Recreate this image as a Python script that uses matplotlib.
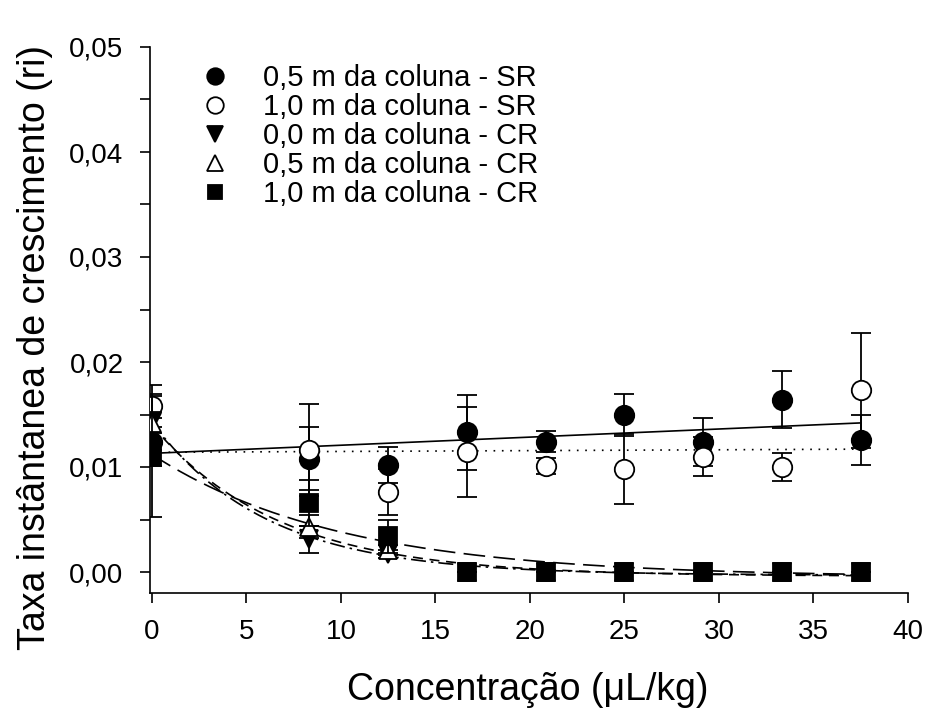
import numpy as np
import matplotlib
matplotlib.use('Agg')
import matplotlib.pyplot as plt
from matplotlib.ticker import MultipleLocator, FuncFormatter

plt.rcParams['font.family'] = ['Liberation Sans', 'DejaVu Sans']

# Concentração (uL/kg)
conc = [0, 8.33, 12.5, 16.67, 20.83, 25, 29.17, 33.33, 37.5]

# Taxa instantânea de crescimento (ri) e desvios
sr_05 = [0.0124, 0.0108, 0.0102, 0.0133, 0.0124, 0.0150, 0.0124, 0.0164, 0.0126]
sr_05_err = [0.0023, 0.0030, 0.0017, 0.0036, 0.0010, 0.0020, 0.0023, 0.0027, 0.0024]
sr_10 = [0.0158, 0.0116, 0.0076, 0.0114, 0.0101, 0.0098, 0.0110, 0.0100, 0.0173]
sr_10_err = [0.0020, 0.0044, 0.0022, 0.0043, 0.0008, 0.0033, 0.0019, 0.0013, 0.0055]
cr_00 = [0.0143, 0.0031, 0.0017, 0, 0, 0, 0, 0, 0]
cr_00_err = [0.0027, 0.0013, 0.0004, 0, 0, 0, 0, 0, 0]
cr_05 = [0.0142, 0.0043, 0.0021, 0, 0, 0, 0, 0, 0]
cr_05_err = [0.0010, 0.0011, 0.0005, 0, 0, 0, 0, 0, 0]
cr_10 = [0.0110, 0.0066, 0.0034, 0, 0, 0, 0, 0, 0]
cr_10_err = [0.0058, 0.0022, 0.0016, 0, 0, 0, 0, 0, 0]

labels = ['0,5 m da coluna - SR', '1,0 m da coluna - SR', '0,0 m da coluna - CR',
          '0,5 m da coluna - CR', '1,0 m da coluna - CR']

# coeficientes das regressões
lin_sr05 = (0.0113, 0.0000773)   # a + b*x
lin_sr10 = (0.0114, 0.0000080)
exp_cr00 = (0.0146, 0.166, -0.0003)  # a*exp(-b*x) + c
exp_cr05 = (0.0144, 0.150, -0.0004)
exp_cr10 = (0.0117, 0.100, -0.0005)

fig = plt.figure(figsize=(9.26, 7.15), dpi=100)
ax = fig.add_axes([150/926, 1-593/715, 758/926, 546/715])

xx = np.linspace(0, 37.5, 300)
ax.plot(xx, lin_sr05[0] + lin_sr05[1]*xx, color='black', lw=1.2, zorder=2)
ax.plot(xx, lin_sr10[0] + lin_sr10[1]*xx, color='black', lw=1.2, ls=(0, (1, 4)), zorder=2)
ax.plot(xx, exp_cr00[0]*np.exp(-exp_cr00[1]*xx) + exp_cr00[2], color='black', lw=1.2,
        ls=(0, (9, 3, 1.5, 3)), zorder=2)
ax.plot(xx, exp_cr05[0]*np.exp(-exp_cr05[1]*xx) + exp_cr05[2], color='black', lw=1.2,
        ls=(0, (6, 4)), zorder=2)
ax.plot(xx, exp_cr10[0]*np.exp(-exp_cr10[1]*xx) + exp_cr10[2], color='black', lw=1.2,
        ls=(0, (13, 5)), zorder=2)

kw = dict(color='black', ecolor='black', elinewidth=1.3, capsize=7, capthick=1.3,
          ls='none', mec='black', mew=1.3)
series = [
    (sr_05, sr_05_err, 'o', 'black', 14),
    (sr_10, sr_10_err, 'o', 'white', 14),
    (cr_00, cr_00_err, 'v', 'black', 13.5),
    (cr_05, cr_05_err, '^', 'white', 13.5),
    (cr_10, cr_10_err, 's', 'black', 12.5),
]
handles = []
for i, (y, e, m, fc, ms) in enumerate(series):
    h = ax.errorbar(conc, y, yerr=e, marker=m, mfc=fc, ms=ms, zorder=3 + i, **kw)
    handles.append(h[0])

leg = ax.legend(handles, labels, loc='upper left', bbox_to_anchor=(0.066, 0.968),
                frameon=False, fontsize=21, handlelength=1.0, handletextpad=1.15,
                labelspacing=0.03, borderaxespad=0, borderpad=0, markerscale=0.85)

ax.set_xlim(-0.1, 40)
ax.set_ylim(-0.002, 0.05)
ax.xaxis.set_major_locator(MultipleLocator(5))
ax.yaxis.set_major_locator(MultipleLocator(0.01))
ax.yaxis.set_minor_locator(MultipleLocator(0.005))
ax.yaxis.set_major_formatter(FuncFormatter(lambda v, p: f'{v:.2f}'.replace('.', ',')))
ax.tick_params(axis='both', which='both', direction='out', length=7, width=1.2,
               labelsize=20, pad=12, colors='black')
ax.spines['top'].set_visible(False)
ax.spines['right'].set_visible(False)
ax.spines['left'].set_linewidth(1.2)
ax.spines['bottom'].set_linewidth(1.2)

fig.text(528/926, 1-690/715, 'Concentração (μL/kg)', fontsize=27, ha='center', va='center')
fig.text(35/926, 1-348/715, 'Taxa instântanea de crescimento (ri)', fontsize=27,
         ha='center', va='center', rotation=90)

fig.savefig('out.png', dpi=100)
